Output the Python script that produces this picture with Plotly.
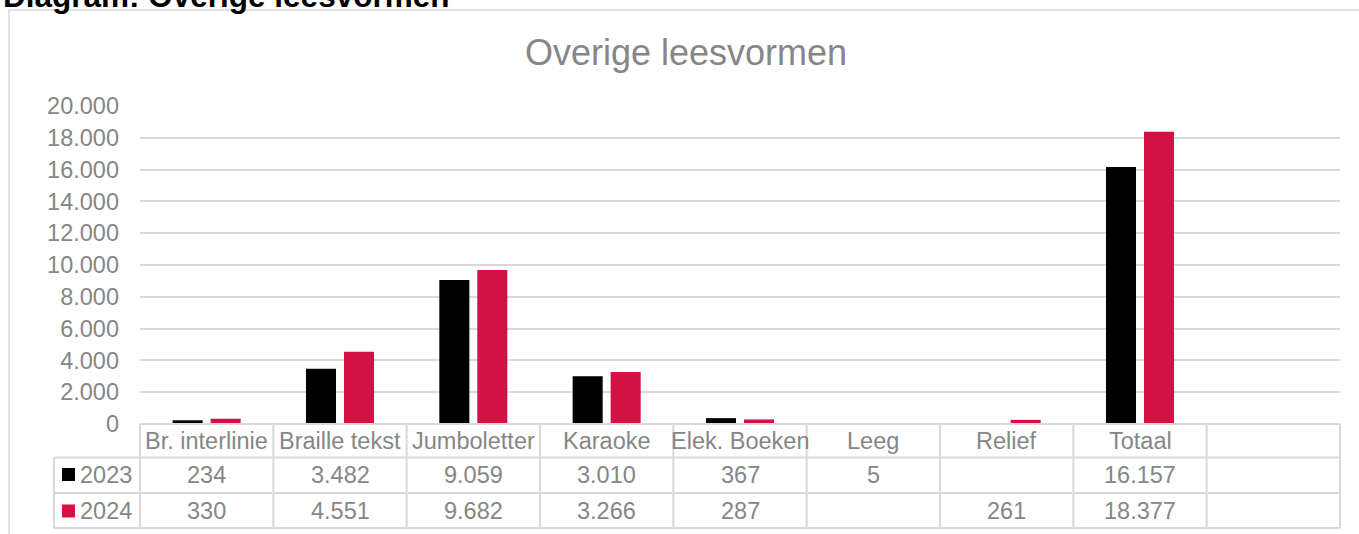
import plotly.graph_objects as go

categories = ["Br. interlinie", "Braille tekst", "Jumboletter", "Karaoke",
              "Elek. Boeken", "Leeg", "Relief", "Totaal"]
values_2023 = [234, 3482, 9059, 3010, 367, 5, None, 16157]
values_2024 = [330, 4551, 9682, 3266, 287, None, 261, 18377]
series_names = ["2023", "2024"]
series_colors = ["#000000", "#D31145"]
y_ticks = [0, 2000, 4000, 6000, 8000, 10000, 12000, 14000, 16000, 18000, 20000]

W, H = 1359, 534
L, R, T, B = 140, 19, 106, 110
PW, PH = W - L - R, H - T - B
TXT = "#868686"
LINE = "#d9d9d9"
FONT = "Liberation Sans, Arial, sans-serif"
FS = 23.5

def px(x):
    return (x - L) / PW

def py(y):
    return (H - B - y) / PH

def fmt(v):
    return "" if v is None else f"{v:,}".replace(",", ".")

xcats = categories + [" "]

fig = go.Figure()
for name, vals, col in zip(series_names, [values_2023, values_2024], series_colors):
    fig.add_trace(go.Bar(x=categories, y=vals, name=name, marker=dict(color=col, line=dict(width=0))))

fig.update_layout(
    width=W, height=H,
    margin=dict(l=L, r=R, t=T, b=B),
    paper_bgcolor="white", plot_bgcolor="white",
    barmode="group", bargap=0.43, bargroupgap=0.21,
    showlegend=False,
    separators=",.",
    font=dict(family=FONT, color=TXT, size=FS),
    xaxis=dict(type="category", categoryorder="array", categoryarray=xcats,
               range=[-0.5, 8.5], showticklabels=False, showgrid=False,
               zeroline=False, showline=False, fixedrange=True),
    yaxis=dict(range=[0, 20000], tickvals=y_ticks, tickformat=",d",
               showgrid=True, gridcolor=LINE, gridwidth=1.5, zeroline=False,
               showline=False, ticks="", ticklabelstandoff=20,
               tickfont=dict(family=FONT, color=TXT, size=FS)),
)

shapes = []
# chart border
shapes.append(dict(type="rect", xref="paper", yref="paper", x0=px(9), x1=px(1370),
                   y0=py(545), y1=py(10), line=dict(color=LINE, width=1.5), layer="below"))
# table horizontal lines
shapes.append(dict(type="line", xref="paper", yref="paper", x0=0, x1=1, y0=py(424), y1=py(424),
                   line=dict(color=LINE, width=2)))
for yy in [457.5, 493, 528]:
    shapes.append(dict(type="line", xref="paper", yref="paper", x0=px(54), x1=1, y0=py(yy), y1=py(yy),
                       line=dict(color=LINE, width=2)))
# vertical lines
n = len(xcats)
for i in range(n + 1):
    shapes.append(dict(type="line", xref="paper", yref="paper", x0=i / n, x1=i / n,
                       y0=py(424), y1=py(528), line=dict(color=LINE, width=2)))
shapes.append(dict(type="line", xref="paper", yref="paper", x0=px(54), x1=px(54),
                   y0=py(457.5), y1=py(528), line=dict(color=LINE, width=2)))
# legend keys
for yc, col in zip([474.5, 511], series_colors):
    shapes.append(dict(type="rect", xref="paper", yref="paper", x0=px(62), x1=px(75),
                       y0=py(yc + 6.5), y1=py(yc - 6.5), fillcolor=col, line=dict(width=0)))
fig.update_layout(shapes=shapes)

ann = []
ann.append(dict(text="Diagram: Overige leesvormen", xref="paper", yref="paper",
                x=px(1), y=py(16), xanchor="left", yanchor="bottom", showarrow=False,
                font=dict(family=FONT, size=31.5, color="#000000", weight="bold")))
ann.append(dict(text="Overige leesvormen", xref="paper", yref="paper",
                x=px(686), y=py(52), xanchor="center", yanchor="middle", showarrow=False,
                font=dict(family=FONT, size=36, color=TXT)))
for c in categories:
    ann.append(dict(text=c, xref="x", yref="paper", x=c, y=py(441), xanchor="center",
                    yanchor="middle", showarrow=False, font=dict(family=FONT, size=FS, color=TXT)))
for name, vals, yc in zip(series_names, [values_2023, values_2024], [475, 511]):
    ann.append(dict(text=name, xref="paper", yref="paper", x=px(78), y=py(yc), xanchor="left",
                    yanchor="middle", showarrow=False, font=dict(family=FONT, size=FS, color=TXT)))
    for c, v in zip(categories, vals):
        if v is None:
            continue
        ann.append(dict(text=fmt(v), xref="x", yref="paper", x=c, y=py(yc), xanchor="center",
                        yanchor="middle", showarrow=False, font=dict(family=FONT, size=FS, color=TXT)))
fig.update_layout(annotations=ann)

fig.write_html("out.html", config={"displayModeBar": False},
               post_script="document.body.style.margin='0';")
